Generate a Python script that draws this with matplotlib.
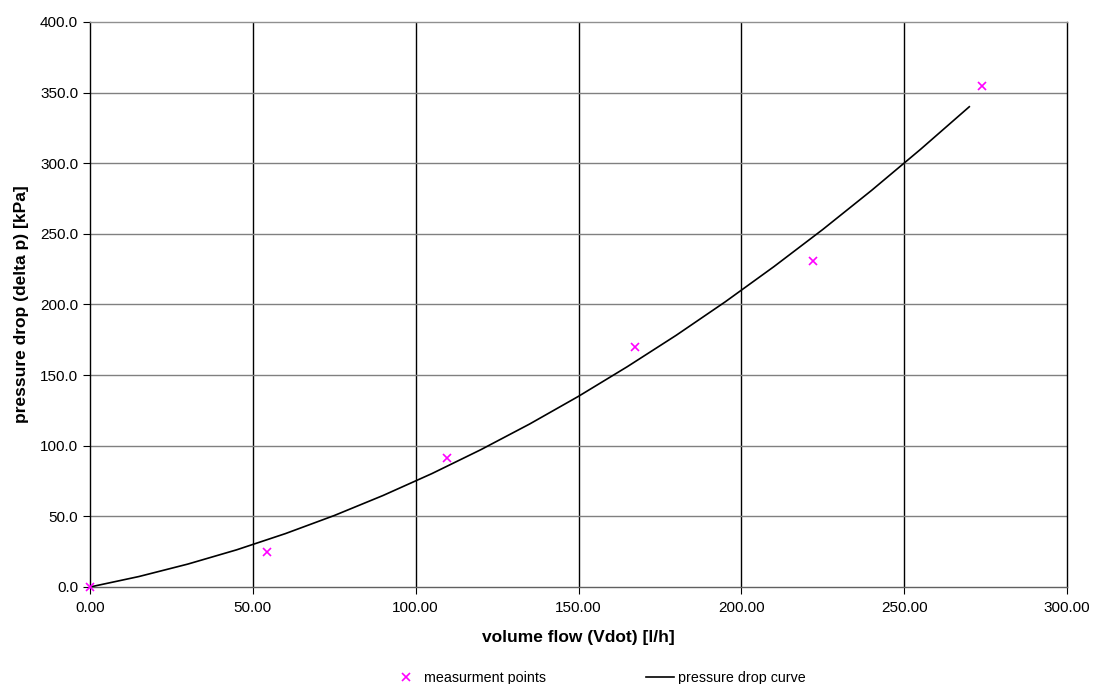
import numpy as np
import matplotlib.pyplot as plt
from matplotlib.ticker import FormatStrFormatter, MultipleLocator
from matplotlib.lines import Line2D

plt.rcParams['font.family'] = ['Liberation Sans', 'DejaVu Sans']

# measured points
meas_flow = [0.0, 54.5, 109.5, 167.5, 222.0, 274.0]
meas_dp = [0.0, 25.0, 91.5, 170.0, 231.0, 355.0]

# pressure drop curve
curve_flow = [0, 15, 30, 45, 60, 75, 90, 105, 120, 135, 150, 165, 180,
              195, 210, 225, 240, 255, 270]
curve_dp = [0, 7.4, 16.2, 26.3, 37.8, 50.6, 64.8, 80.3, 97.2, 115.4,
            135.0, 156.0, 178.2, 201.8, 226.8, 253.1, 280.8, 309.8, 340.0]

fig = plt.figure(figsize=(10.93, 6.84), dpi=100)
ax = fig.add_axes([90/1093, 1-587/684, 977/1093, 565/684])

ax.plot(curve_flow, curve_dp, color='black', lw=1.2, zorder=3)
ax.plot(meas_flow, meas_dp, linestyle='none', marker='x', color='#ff00ff',
        ms=6, mew=1.2, zorder=4, clip_on=False)

ax.set_xlim(0, 300)
ax.set_ylim(0, 400)
ax.xaxis.set_major_locator(MultipleLocator(50))
ax.yaxis.set_major_locator(MultipleLocator(50))
ax.xaxis.set_major_formatter(FormatStrFormatter('%.2f'))
ax.yaxis.set_major_formatter(FormatStrFormatter('%.1f'))

for v in np.arange(50, 300, 50):
    ax.axvline(v, color='black', lw=1, zorder=1)
for v in np.arange(50, 400, 50):
    ax.axhline(v, color='#808080', lw=1, zorder=1)

ax.spines['top'].set_color('#909090')
ax.spines['right'].set_color('black')
ax.spines['left'].set_color('black')
ax.spines['bottom'].set_color('#606060')
for s in ax.spines.values():
    s.set_linewidth(1)
ax.tick_params(axis='both', direction='out', length=5, color='black', labelsize=11)
ax.tick_params(axis='x', pad=5)

ax.set_xlabel('volume flow (Vdot) [l/h]', fontsize=12.5, fontweight='bold', labelpad=11)
ax.set_ylabel('pressure drop (delta p) [kPa]', fontsize=12.5, fontweight='bold', labelpad=8)

handles = [
    Line2D([], [], linestyle='none', marker='x', color='#ff00ff', ms=6, mew=1.2),
    Line2D([], [], color='black', lw=1.2),
]
fig.legend(handles, ['measurment points', 'pressure drop curve'],
           loc='lower center', bbox_to_anchor=(0.548, -0.02), ncol=2, frameon=False,
           fontsize=10.3, columnspacing=7, handlelength=1.95, handletextpad=0.3)

fig.savefig('out.png', dpi=100)
